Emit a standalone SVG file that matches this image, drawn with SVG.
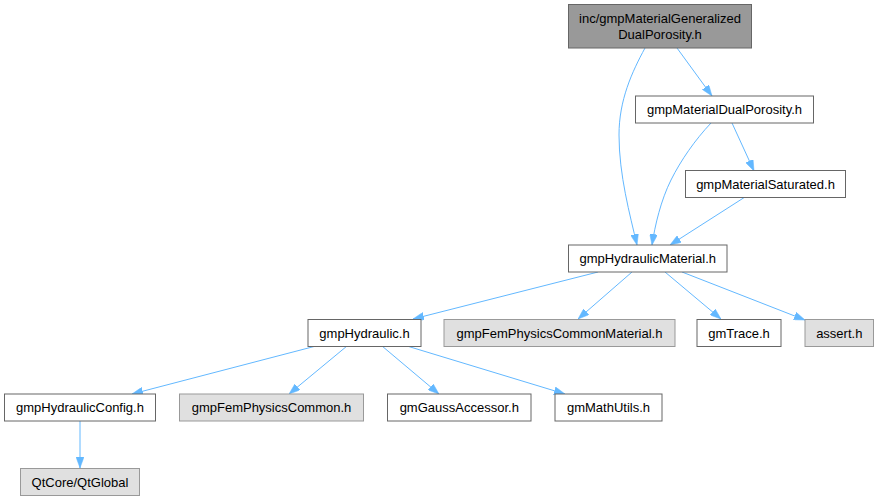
<svg xmlns="http://www.w3.org/2000/svg" width="879" height="501" viewBox="0 0 879 501">
<style>
.n rect{fill:#ffffff;stroke:#666666;stroke-width:1}
.x rect{fill:#e0e0e0;stroke:#999999;stroke-width:1}
.r rect{fill:#999999;stroke:#666666;stroke-width:1}
text{font-family:"Liberation Sans",Arial,sans-serif;font-size:13px;fill:#000000;text-anchor:middle}
.e path{fill:none;stroke:#63b8ff;stroke-width:1;marker-end:url(#a)}
</style>
<defs>
<marker id="a" markerUnits="userSpaceOnUse" markerWidth="11" markerHeight="8" refX="11" refY="4" orient="auto">
<path d="M0,0 L11,4 L0,8 z" fill="#63b8ff" stroke="#63b8ff" stroke-width="0.5"/>
</marker>
</defs>
<g id="edges" class="e">
<path d="M677,48 L712,96"/>
<path d="M645,48 C632,72 619,100 619,135 C619,175 630,215 637,245"/>
<path d="M711,123 C695,140 681,160 671,180 C661,200 655,225 652,245"/>
<path d="M732,123 L754,171"/>
<path d="M745,197 L670,245"/>
<path d="M598,272 L413,319"/>
<path d="M632,272 L578,319"/>
<path d="M665,272 L721,319"/>
<path d="M682,272 L805,320"/>
<path d="M316,346 L132,394"/>
<path d="M347,346 L289,394"/>
<path d="M382,346 L439,394"/>
<path d="M407,346 L565,394"/>
<path d="M80,421 L80,468"/>
</g>
<g id="node1" class="r"><rect x="568.5" y="4.5" width="183" height="43.5"/><text x="660" y="23">inc/gmpMaterialGeneralized</text><text x="660" y="39">DualPorosity.h</text></g>
<g id="node2" class="n"><rect x="635.5" y="96" width="178" height="27"/><text x="724.5" y="114">gmpMaterialDualPorosity.h</text></g>
<g id="node3" class="n"><rect x="685.5" y="170.5" width="160" height="27"/><text x="765.5" y="188.5">gmpMaterialSaturated.h</text></g>
<g id="node4" class="n"><rect x="568.5" y="245" width="158.5" height="27"/><text x="647.75" y="263">gmpHydraulicMaterial.h</text></g>
<g id="node5" class="n"><rect x="308" y="319.5" width="113" height="27"/><text x="364.5" y="337.5">gmpHydraulic.h</text></g>
<g id="node6" class="x"><rect x="444" y="319.5" width="231" height="27"/><text x="559.5" y="337.5">gmpFemPhysicsCommonMaterial.h</text></g>
<g id="node7" class="n"><rect x="697" y="319.5" width="84" height="27"/><text x="739" y="337.5">gmTrace.h</text></g>
<g id="node8" class="x"><rect x="805" y="319.5" width="68.5" height="27"/><text x="839.25" y="337.5">assert.h</text></g>
<g id="node9" class="n"><rect x="4.5" y="394" width="151" height="27"/><text x="80" y="412">gmpHydraulicConfig.h</text></g>
<g id="node10" class="x"><rect x="179.5" y="394" width="184" height="27"/><text x="271.5" y="412">gmpFemPhysicsCommon.h</text></g>
<g id="node11" class="n"><rect x="387.5" y="394" width="143.5" height="27"/><text x="459.25" y="412">gmGaussAccessor.h</text></g>
<g id="node12" class="n"><rect x="555" y="394" width="107" height="27"/><text x="608.5" y="412">gmMathUtils.h</text></g>
<g id="node13" class="x"><rect x="20.5" y="468.5" width="119" height="27"/><text x="80" y="486.5">QtCore/QtGlobal</text></g>
</svg>
